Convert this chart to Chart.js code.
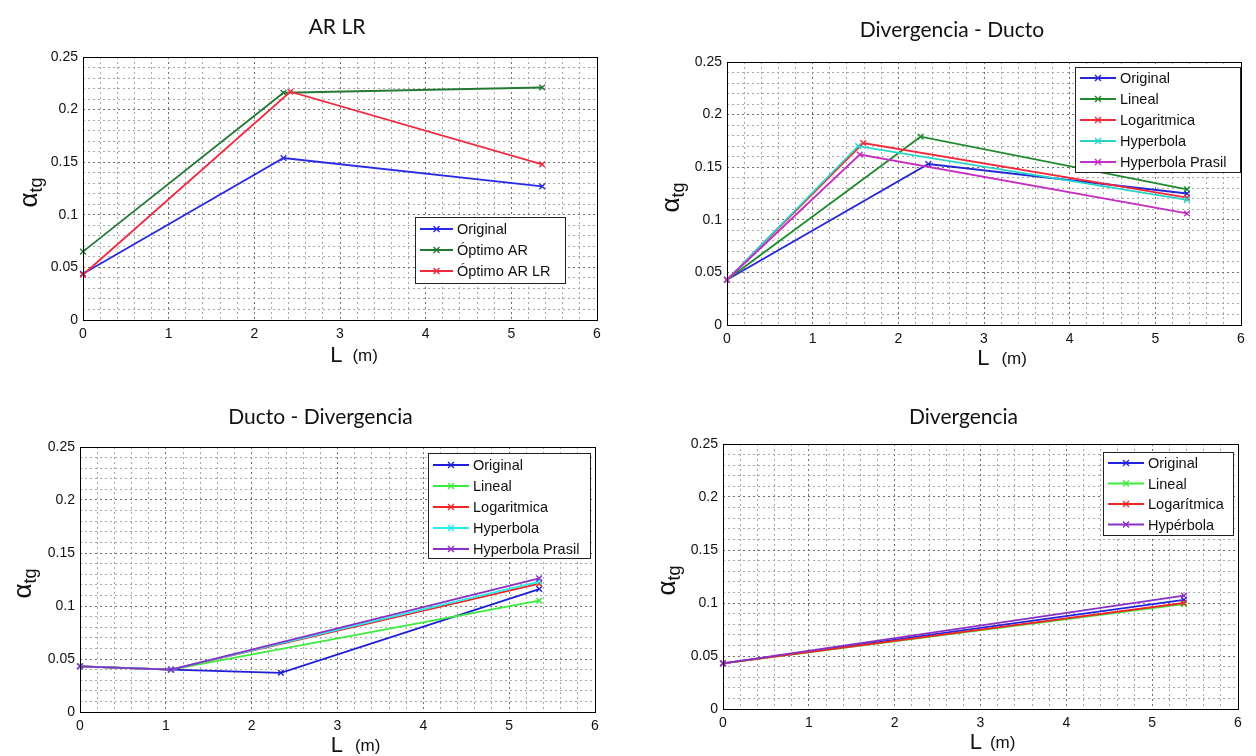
<!DOCTYPE html>
<html><head><meta charset="utf-8">
<script src="https://cdn.jsdelivr.net/npm/chart.js@4.4.1/dist/chart.umd.min.js"></script>
<style>
html,body{margin:0;padding:0;background:#fff;}
body{width:1256px;height:756px;overflow:hidden;position:relative;}
canvas{position:absolute;}
</style></head><body>
<canvas id="c1" style="left:0px;top:0px" width="628" height="385"></canvas>
<canvas id="c2" style="left:628px;top:0px" width="628" height="385"></canvas>
<canvas id="c3" style="left:0px;top:385px" width="628" height="371"></canvas>
<canvas id="c4" style="left:628px;top:385px" width="628" height="371"></canvas>
<script>
// ---------- DATA ----------
const titles = ["AR LR", "Divergencia - Ducto", "Ducto - Divergencia", "Divergencia"];
const xTickLabels = [0, 1, 2, 3, 4, 5, 6];
const yTickLabels = [0, 0.05, 0.1, 0.15, 0.2, 0.25];

// Plot 1: AR LR
const p1Names = ["Original", "Óptimo AR", "Óptimo AR LR"];
const p1OriginalX = [0, 2.34, 5.36];
const p1OriginalY = [0.044, 0.154, 0.127];
const p1OptARX = [0, 2.34, 5.36];
const p1OptARY = [0.065, 0.216, 0.221];
const p1OptARLRX = [0, 2.42, 5.36];
const p1OptARLRY = [0.043, 0.217, 0.148];

// Plot 2: Divergencia - Ducto
const p2Names = ["Original", "Lineal", "Logaritmica", "Hyperbola", "Hyperbola Prasil"];
const p2OriginalX = [0, 2.35, 5.37];
const p2OriginalY = [0.043, 0.153, 0.125];
const p2LinealX = [0, 2.26, 5.37];
const p2LinealY = [0.043, 0.179, 0.129];
const p2LogX = [0, 1.59, 5.37];
const p2LogY = [0.043, 0.173, 0.121];
const p2HypX = [0, 1.53, 5.37];
const p2HypY = [0.043, 0.170, 0.119];
const p2PrasilX = [0, 1.55, 5.37];
const p2PrasilY = [0.043, 0.162, 0.106];

// Plot 3: Ducto - Divergencia
const p3Names = ["Original", "Lineal", "Logaritmica", "Hyperbola", "Hyperbola Prasil"];
const p3OriginalX = [0, 1.06, 2.34, 5.35];
const p3OriginalY = [0.043, 0.040, 0.037, 0.116];
const p3LinealX = [0, 1.06, 5.35];
const p3LinealY = [0.043, 0.040, 0.105];
const p3LogX = [0, 1.06, 5.35];
const p3LogY = [0.043, 0.040, 0.121];
const p3HypX = [0, 1.06, 5.35];
const p3HypY = [0.043, 0.040, 0.123];
const p3PrasilX = [0, 1.06, 5.35];
const p3PrasilY = [0.043, 0.040, 0.126];

// Plot 4: Divergencia
const p4Names = ["Original", "Lineal", "Logarítmica", "Hypérbola"];
const p4OriginalX = [0, 5.37];
const p4OriginalY = [0.043, 0.103];
const p4LinealX = [0, 5.37];
const p4LinealY = [0.043, 0.099];
const p4LogX = [0, 5.37];
const p4LogY = [0.043, 0.100];
const p4HypX = [0, 5.37];
const p4HypY = [0.043, 0.107];

// ---------- HELPERS ----------
function pts(xs, ys) { return xs.map((x, i) => ({ x: x, y: ys[i] })); }
function mkSets(names, xsList, ysList, colors) {
  const n = names.length;
  return names.map((nm, i) => ({
    label: nm,
    data: pts(xsList[i], ysList[i]),
    borderColor: colors[i],
    backgroundColor: colors[i],
    borderWidth: 1.8,
    pointStyle: 'crossRot',
    pointRadius: 4,
    pointBorderWidth: 1.4,
    tension: 0,
    clip: false,
    order: n - i
  }));
}

const FONT = '"Liberation Sans", Arial, sans-serif';

const decorPlugin = {
  id: 'decor',
  afterDraw(chart) {
    const o = chart.options.plugins.decor;
    const ctx = chart.ctx;
    const a = chart.chartArea;
    ctx.save();
    // axes box
    ctx.strokeStyle = '#000';
    ctx.lineWidth = 1;
    ctx.setLineDash([]);
    ctx.strokeRect(Math.round(a.left) + 0.5, Math.round(a.top) + 0.5, Math.round(a.right - a.left), Math.round(a.bottom - a.top));
    // title
    ctx.fillStyle = '#111';
    ctx.font = '21px Lato, "Open Sans", sans-serif';
    ctx.textAlign = 'center';
    ctx.textBaseline = 'middle';
    ctx.fillText(o.title, (a.left + a.right) / 2 + (o.titleDX || 0), o.titleY);
    // x label: "L (m)"
    ctx.textAlign = 'left';
    ctx.textBaseline = 'alphabetic';
    ctx.font = '22px ' + FONT;
    const wL = ctx.measureText('L').width;
    ctx.font = '17px ' + FONT;
    const wM = ctx.measureText('(m)').width;
    const gap = o.xGap;
    const total = wL + gap + wM;
    let sx = (a.left + a.right) / 2 + o.xlabelDX - total / 2;
    ctx.font = '22px ' + FONT;
    ctx.fillText('L', sx, a.bottom + o.xlabelDY);
    ctx.font = '17px ' + FONT;
    ctx.fillText('(m)', sx + wL + gap, a.bottom + o.xlabelDY - 1);
    // y label: alpha_tg (rotated)
    ctx.save();
    ctx.translate(o.ylabelX, (a.top + a.bottom) / 2 + 4);
    ctx.rotate(-Math.PI / 2);
    ctx.font = '26px ' + FONT;
    const wA = ctx.measureText('α').width;
    ctx.font = '18px ' + FONT;
    const wT = ctx.measureText('tg').width;
    const st = -(wA + wT) / 2;
    ctx.textBaseline = 'middle';
    ctx.font = '26px ' + FONT;
    ctx.fillText('α', st, 0);
    ctx.font = '18px ' + FONT;
    ctx.fillText('tg', st + wA, 7);
    ctx.restore();
    // legend
    const L = o.legend;
    ctx.fillStyle = '#fff';
    ctx.fillRect(L.x, L.y, L.w, L.h);
    ctx.strokeStyle = '#222';
    ctx.lineWidth = 1;
    ctx.strokeRect(L.x + 0.5, L.y + 0.5, L.w, L.h);
    ctx.font = '14.5px ' + FONT;
    ctx.textBaseline = 'middle';
    ctx.textAlign = 'left';
    chart.data.datasets.forEach((ds, i) => {
      const yy = L.y + L.row0 + i * L.rowH;
      const x1 = L.x + 5, x2 = L.x + L.lineW + 5;
      ctx.strokeStyle = ds.borderColor;
      ctx.lineWidth = 2;
      ctx.beginPath(); ctx.moveTo(x1, yy); ctx.lineTo(x2, yy); ctx.stroke();
      const cx = (x1 + x2) / 2, r = 3;
      ctx.lineWidth = 1.4;
      ctx.beginPath();
      ctx.moveTo(cx - r, yy - r); ctx.lineTo(cx + r, yy + r);
      ctx.moveTo(cx + r, yy - r); ctx.lineTo(cx - r, yy + r);
      ctx.stroke();
      ctx.fillStyle = '#111';
      ctx.fillText(ds.label, x2 + 4, yy + 1);
    });
    ctx.restore();
  }
};

function gridColor(ctx, step) {
  const v = ctx.tick ? ctx.tick.value : 0;
  const k = Math.round(v / step);
  return (Math.abs(v - k * step) < 1e-6) ? '#6e6e6e' : '#a8a8a8';
}

function makeChart(id, spec) {
  const c = document.getElementById(id);
  const W = c.width, H = c.height;
  const A = spec.area;
  return new Chart(c, {
    type: 'line',
    data: { datasets: spec.datasets },
    plugins: [decorPlugin],
    options: {
      responsive: false,
      animation: false,
      devicePixelRatio: 1,
      layout: { padding: { left: 0, top: A.t, right: W - A.r, bottom: 0 } },
      plugins: {
        legend: { display: false },
        tooltip: { enabled: false },
        title: { display: false },
        decor: spec.decor
      },
      scales: {
        x: {
          type: 'linear', min: 0, max: 6,
          afterBuildTicks(s) { const t = []; for (let i = 0; i <= 30; i++) t.push({ value: i / 5 }); s.ticks = t; },
          afterFit(s) { s.height = H - A.b; },
          ticks: {
            autoSkip: false, maxRotation: 0, minRotation: 0, padding: 6,
            color: '#111', font: { family: FONT, size: 14 },
            callback(v) { const k = Math.round(v); return (Math.abs(v - k) < 1e-6 && xTickLabels.includes(k)) ? String(k) : ''; }
          },
          grid: { drawTicks: false, lineWidth: 1, color: (ctx) => gridColor(ctx, 1) },
          border: { display: false, dash: [2, 3] }
        },
        y: {
          type: 'linear', min: 0, max: 0.25,
          afterBuildTicks(s) { const t = []; for (let i = 0; i <= 25; i++) t.push({ value: i / 100 }); s.ticks = t; },
          afterFit(s) { s.width = A.l; },
          ticks: {
            autoSkip: false, padding: 5,
            color: '#111', font: { family: FONT, size: 14 },
            callback(v) {
              const hit = yTickLabels.find(t => Math.abs(t - v) < 1e-6);
              return hit === undefined ? '' : String(hit);
            }
          },
          grid: { drawTicks: false, lineWidth: 1, color: (ctx) => gridColor(ctx, 0.05) },
          border: { display: false, dash: [2, 3] }
        }
      }
    }
  });
}

// ---------- CHARTS ----------
makeChart('c1', {
  area: { l: 83, t: 57, r: 597, b: 320 },
  datasets: mkSets(p1Names, [p1OriginalX, p1OptARX, p1OptARLRX], [p1OriginalY, p1OptARY, p1OptARLRY],
    ['#2a2ae6', '#237a33', '#f02a40']),
  decor: { title: titles[0], titleY: 27, titleDX: -3, xlabelDX: 14, xlabelDY: 42, xGap: 10, ylabelX: 30,
    legend: { x: 415, y: 217, w: 150, h: 66, row0: 12, rowH: 21, lineW: 33 } }
});

makeChart('c2', {
  area: { l: 99, t: 62, r: 613, b: 325 },
  datasets: mkSets(p2Names, [p2OriginalX, p2LinealX, p2LogX, p2HypX, p2PrasilX],
    [p2OriginalY, p2LinealY, p2LogY, p2HypY, p2PrasilY],
    ['#2626d6', '#1f8a2e', '#f5283c', '#25d6c6', '#c42ec4']),
  decor: { title: titles[1], titleY: 30, titleDX: -32, xlabelDX: 18, xlabelDY: 40, xGap: 12, ylabelX: 44,
    legend: { x: 447, y: 67, w: 165, h: 105, row0: 11, rowH: 21, lineW: 36 } }
});

makeChart('c3', {
  area: { l: 80, t: 62, r: 595, b: 327 },
  datasets: mkSets(p3Names, [p3OriginalX, p3LinealX, p3LogX, p3HypX, p3PrasilX],
    [p3OriginalY, p3LinealY, p3LogY, p3HypY, p3PrasilY],
    ['#1e1ed8', '#3cec3c', '#ee2626', '#26ecec', '#8a30c8']),
  decor: { title: titles[2], titleY: 32, titleDX: -17, xlabelDX: 18, xlabelDY: 40, xGap: 12, ylabelX: 24,
    legend: { x: 428, y: 68, w: 162, h: 105, row0: 12, rowH: 21, lineW: 36 } }
});

makeChart('c4', {
  area: { l: 95, t: 59, r: 610, b: 324 },
  datasets: mkSets(p4Names, [p4OriginalX, p4LinealX, p4LogX, p4HypX],
    [p4OriginalY, p4LinealY, p4LogY, p4HypY],
    ['#2222e0', '#3cec3c', '#ee2626', '#8a30c8']),
  decor: { title: titles[3], titleY: 32, titleDX: -17, xlabelDX: 12, xlabelDY: 40, xGap: 8, ylabelX: 40,
    legend: { x: 475, y: 67, w: 130, h: 83, row0: 11, rowH: 20.5, lineW: 36 } }
});
</script>
</body></html>
